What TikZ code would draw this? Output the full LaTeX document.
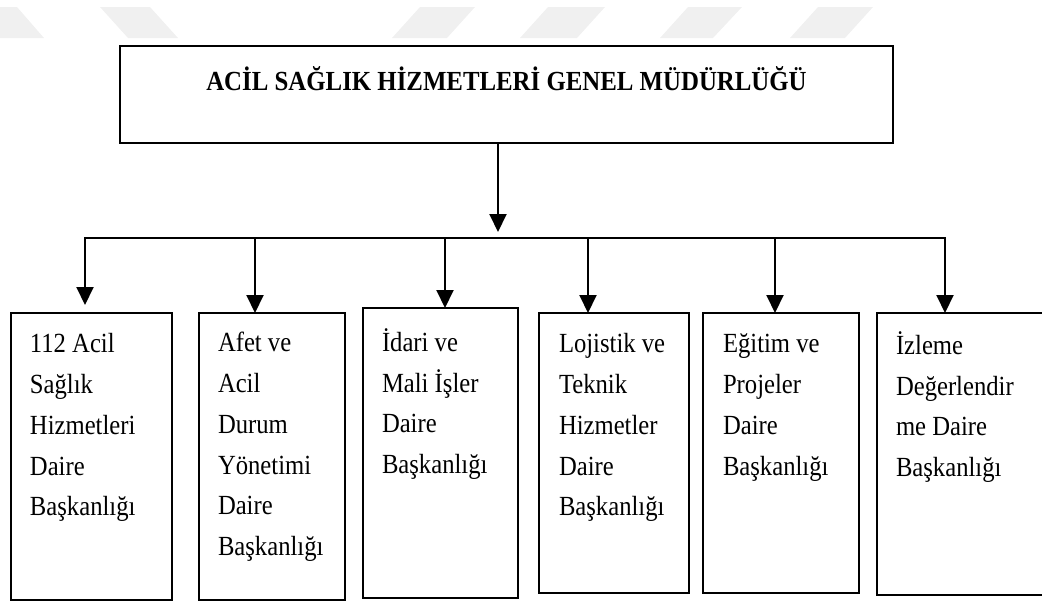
\documentclass[tikz,border=0pt]{standalone}
\usepackage{fontspec}
\setmainfont{Liberation Serif}
\usetikzlibrary{arrows.meta}
\tikzset{
  box/.style={draw=black, line width=2pt, inner sep=0pt, outer sep=0pt, anchor=north west, fill=white},
  conn/.style={draw=black, line width=2pt},
  arr/.style={conn, -{Triangle[width=17pt,length=18pt]}},
  lbl/.style={anchor=north west, inner sep=0pt, outer sep=0pt, font=\fontsize{27.7}{40.7}\selectfont},
  wm/.style={fill=gray!12, draw=none}
}
\newcommand{\lines}[1]{\scalebox{0.89}[1]{\begin{tabular}{@{}l@{}}#1\end{tabular}}}
\begin{document}
\begin{tikzpicture}[x=1pt,y=-1pt]
\useasboundingbox (0,0) rectangle (1042,603);
\clip (0,0) rectangle (1042,603);
% watermark
\fill[wm] (-38,7) -- (17,7) -- (44,38) -- (-11,38) -- cycle;
\fill[wm] (100,7) -- (150,7) -- (178,38) -- (128,38) -- cycle;
\fill[wm] (420,7) -- (475,7) -- (447,38) -- (392,38) -- cycle;
\fill[wm] (548,7) -- (605,7) -- (577,38) -- (520,38) -- cycle;
\fill[wm] (688,7) -- (742,7) -- (713,38) -- (660,38) -- cycle;
\fill[wm] (818,7) -- (873,7) -- (845,38) -- (790,38) -- cycle;
% top box
\node[box, minimum width=773pt, minimum height=97pt] (top) at (120,46) {};
\node[anchor=base, inner sep=0pt, font=\fontsize{27.6}{33}\selectfont\bfseries] (title) at (506.5,90)
  {\scalebox{0.9}[1]{ACİL SAĞLIK HİZMETLERİ GENEL MÜDÜRLÜĞÜ}};
% boxes
\node[box, minimum width=161pt, minimum height=287pt] (b1) at (11,313) {};
\node[box, minimum width=146pt, minimum height=287pt] (b2) at (199,313) {};
\node[box, minimum width=155pt, minimum height=290pt] (b3) at (363,308) {};
\node[box, minimum width=150pt, minimum height=280pt] (b4) at (539,313) {};
\node[box, minimum width=156pt, minimum height=280pt] (b5) at (703,313) {};
\node[box, minimum width=175pt, minimum height=282pt] (b6) at (877,313) {};
% labels
\node[lbl] (t1) at (30,324.5) {\lines{112 Acil\\Sağlık\\Hizmetleri\\Daire\\Başkanlığı}};
\node[lbl] (t2) at (218,323.5) {\lines{Afet ve\\Acil\\Durum\\Yönetimi\\Daire\\Başkanlığı}};
\node[lbl] (t3) at (382,323) {\lines{İdari ve\\Mali İşler\\Daire\\Başkanlığı}};
\node[lbl] (t4) at (559,324.5) {\lines{Lojistik ve\\Teknik\\Hizmetler\\Daire\\Başkanlığı}};
\node[lbl] (t5) at (723,324.5) {\lines{Eğitim ve\\Projeler\\Daire\\Başkanlığı}};
\node[lbl] (t6) at (896,326) {\lines{İzleme\\Değerlendir\\me Daire\\Başkanlığı}};
% connectors
\coordinate (j0) at (498,232);
\coordinate (d1) at (85,238);
\coordinate (d2) at (255,238);
\coordinate (d3) at (445,238);
\coordinate (d4) at (588,238);
\coordinate (d5) at (775,238);
\coordinate (d6) at (945,238);
\draw[arr] (top.south -| j0) -- (j0);
\draw[conn, line cap=rect] (d1) -- (d6);
\draw[arr, shorten >=8pt] (d1) -- (b1.north -| d1);
\draw[arr] (d2) -- (b2.north -| d2);
\draw[arr] (d3) -- (b3.north -| d3);
\draw[arr] (d4) -- (b4.north -| d4);
\draw[arr] (d5) -- (b5.north -| d5);
\draw[arr] (d6) -- (b6.north -| d6);
\end{tikzpicture}
\end{document}
